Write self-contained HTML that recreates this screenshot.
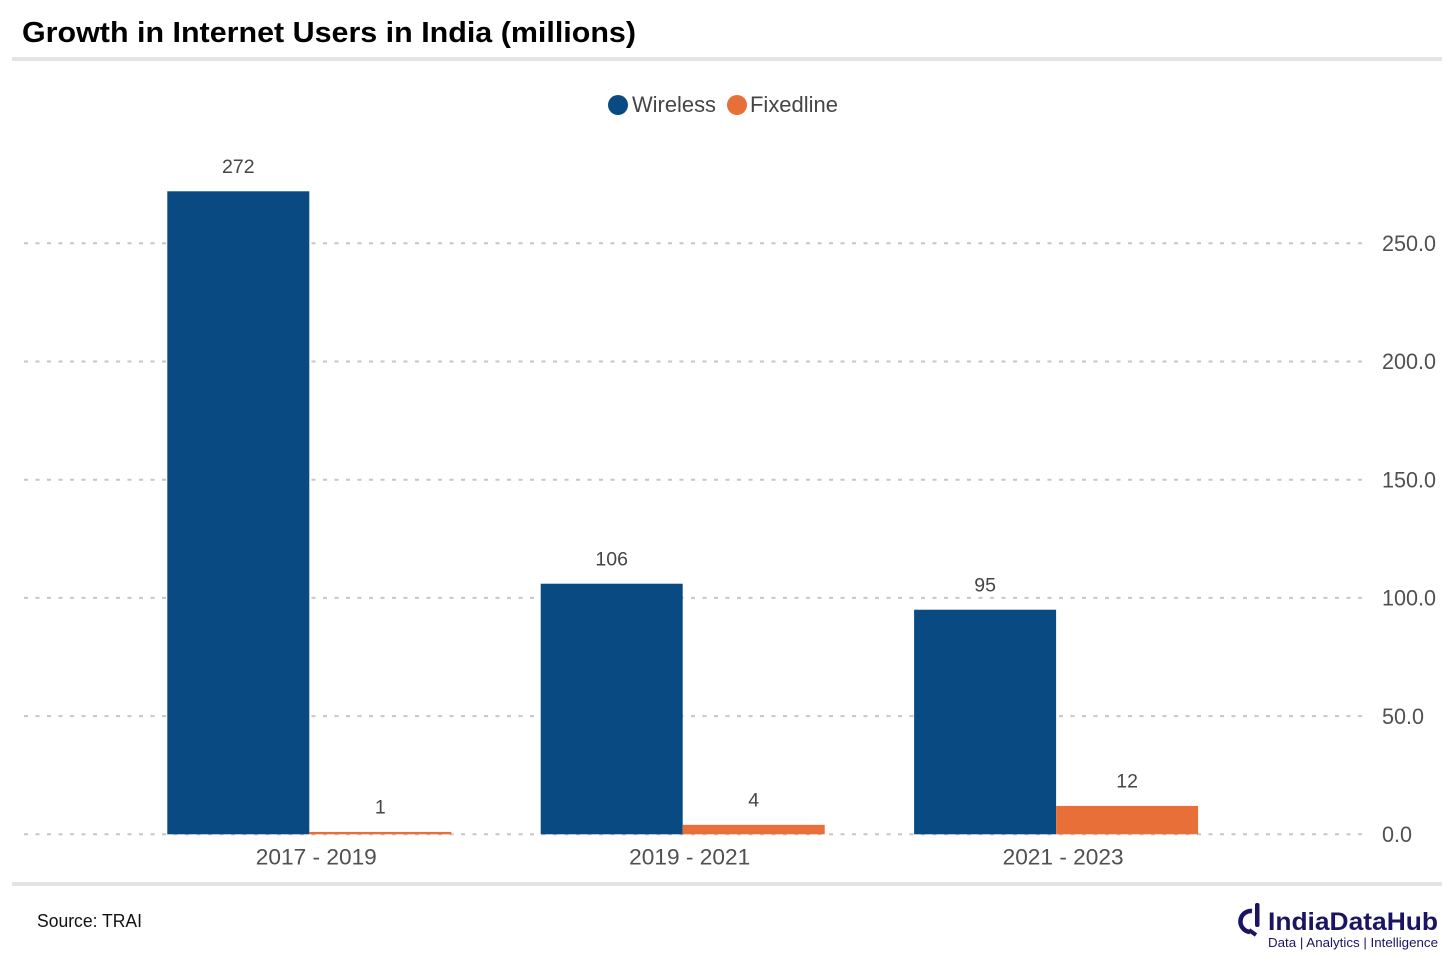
<!DOCTYPE html>
<html lang="en">
<head>
<meta charset="utf-8">
<title>Growth in Internet Users in India (millions)</title>
<style>
html,body{margin:0;padding:0;background:#fff;width:1456px;height:964px;overflow:hidden}
svg{display:block;font-family:"Liberation Sans",sans-serif}
</style>
</head>
<body>
<svg id="chart" xmlns="http://www.w3.org/2000/svg" width="1456" height="964" viewBox="0 0 1456 964">
  <rect width="1456" height="964" fill="#ffffff"/>
  <text x="22" y="42" font-size="29" font-weight="700" fill="#000" textLength="614" lengthAdjust="spacingAndGlyphs">Growth in Internet Users in India (millions)</text>
  <rect x="12" y="57" width="1430" height="4" fill="#e4e4e4"/>
  <g>
    <g>
      <circle cx="618" cy="105" r="10" fill="#0a4a82"/>
      <text x="632" y="112" font-size="22.5" fill="#454545" textLength="84" lengthAdjust="spacingAndGlyphs">Wireless</text>
    </g>
    <g>
      <circle cx="737" cy="105" r="10" fill="#e86f37"/>
      <text x="750" y="112" font-size="22.5" fill="#454545" textLength="88" lengthAdjust="spacingAndGlyphs">Fixedline</text>
    </g>
  </g>
  <g id="grid"></g>
  <g id="bars"></g>
  <g id="labels"></g>
  <rect x="12" y="882" width="1430" height="4" fill="#e4e4e4"/>
  <text x="37" y="927" font-size="18" fill="#111" textLength="105" lengthAdjust="spacingAndGlyphs">Source: TRAI</text>
  <g>
    <path d="M1252 911 A 10 10 0 1 0 1250 932" fill="none" stroke="#1b1464" stroke-width="4.5"/>
    <rect x="1255" y="903" width="4.5" height="24" rx="2" fill="#1b1464"/>
    <path d="M1249 930 L1256 935" fill="none" stroke="#1b1464" stroke-width="4"/>
    <text x="1268" y="930" font-size="25" font-weight="700" fill="#1b1464" textLength="170" lengthAdjust="spacingAndGlyphs">IndiaDataHub</text>
    <text x="1268" y="947" font-size="12.5" fill="#1b1464" textLength="170" lengthAdjust="spacingAndGlyphs">Data | Analytics | Intelligence</text>
  </g>
</svg>
<script>
const categories = ["2017 - 2019", "2019 - 2021", "2021 - 2023"];
const wireless = [272, 106, 95];
const fixedline = [1, 4, 12];
const yTicks = [0, 50, 100, 150, 200, 250];

const NS = "http://www.w3.org/2000/svg";
const gridG = document.getElementById("grid");
const barsG = document.getElementById("bars");
const labelsG = document.getElementById("labels");

function yScale(v) { return 834.3 - v * 2.364; }
function groupStart(i) { return 167.3 + i * 373.4; }
const BAR_W = 142;

function make(tag, attrs, parent, txt) {
  const el = document.createElementNS(NS, tag);
  for (const k in attrs) el.setAttribute(k, attrs[k]);
  if (txt !== undefined) el.textContent = txt;
  parent.appendChild(el);
  return el;
}

yTicks.forEach(function (t) {
  const line = make("line", {x1: 24, x2: 1367, y1: yScale(t), y2: yScale(t), stroke: "#c6c6c6", "stroke-width": 2, "stroke-dasharray": "4 7.5"}, gridG);
  
  
  const lab = make("text", {x: 1382, y: yScale(t) + 7.7, "font-size": 22, fill: "#505050", textLength: t >= 100 ? 54 : (t >= 50 ? 42 : 30), lengthAdjust: "spacingAndGlyphs"}, labelsG, t.toFixed(1));
  
  
});

categories.forEach(function (c, i) {
  const x0 = groupStart(i);
  const w = wireless[i], f = fixedline[i];

  const wb = make("rect", {x: x0, y: yScale(w), width: BAR_W, height: yScale(0) - yScale(w), fill: "#0a4a82"}, barsG);
  
  

  const fb = make("rect", {x: x0 + BAR_W, y: yScale(f), width: BAR_W, height: yScale(0) - yScale(f), fill: "#e86f37"}, barsG);
  
  

  const wl = make("text", {x: x0 + BAR_W / 2, y: yScale(w) - 18.3, "font-size": 19.5, fill: "#454545", "text-anchor": "middle"}, labelsG, String(w));
  
  

  const fl = make("text", {x: x0 + BAR_W * 1.5, y: yScale(f) - 18.3, "font-size": 19.5, fill: "#454545", "text-anchor": "middle"}, labelsG, String(f));
  
  

  const cl = make("text", {x: x0 + BAR_W + 7, y: 864.5, "font-size": 22, fill: "#505050", "text-anchor": "middle", textLength: 121, lengthAdjust: "spacingAndGlyphs"}, labelsG, c);
  
  
});
</script>
</body>
</html>
